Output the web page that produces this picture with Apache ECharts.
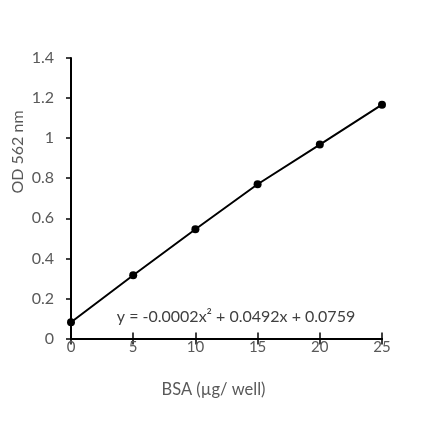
<!DOCTYPE html>
<html><head><meta charset="utf-8">
<script src="https://cdn.jsdelivr.net/npm/echarts@6/dist/echarts.min.js"></script>
<style>html,body{margin:0;padding:0;background:#fff}#c{width:438px;height:438px}</style>
</head><body><div id="c"></div>
<script>
const xValues = [0, 5, 10, 15, 20, 25];
const odValues = [0.081, 0.316, 0.545, 0.770, 0.968, 1.167];
const yTicks = [0, 0.2, 0.4, 0.6, 0.8, 1.0, 1.2, 1.4];
const xTicks = [0, 5, 10, 15, 20, 25];
const equation = 'y = -0.0002x\u00B2 + 0.0492x + 0.0759';

const font = 'Lato, "Open Sans", sans-serif';
const grey = '#595959';
const chart = echarts.init(document.getElementById('c'));
const xBase = {
  type: 'value', min: xTicks[0], max: xTicks[xTicks.length - 1], interval: 5,
  splitLine: { show: false },
  axisLine: { lineStyle: { color: '#000', width: 2 } }
};
chart.setOption({
  animation: false,
  grid: { left: 71, right: 56, top: 58, bottom: 99.5 },
  xAxis: [
    Object.assign({}, xBase, {
      name: 'BSA (\u00B5g/ well)', nameLocation: 'middle', nameGap: 43,
      nameTextStyle: { color: grey, fontSize: 16.5, fontFamily: font, padding: [0, 26, 0, 0] },
      axisTick: { show: true, length: 6, lineStyle: { color: '#000', width: 1.5 } },
      axisLabel: { color: grey, fontSize: 15, fontFamily: font, margin: 1 }
    }),
    Object.assign({}, xBase, {
      position: 'bottom',
      axisTick: { show: true, inside: true, length: 6, lineStyle: { color: '#000', width: 1.5 } },
      axisLabel: { show: false }
    })
  ],
  yAxis: {
    type: 'value', min: 0, max: 1.4, interval: 0.2,
    splitLine: { show: false },
    axisLine: { show: true, lineStyle: { color: '#000', width: 2 } },
    axisTick: { show: true, length: 5, lineStyle: { color: '#000', width: 1.5 } },
    axisLabel: { color: grey, fontSize: 16, fontFamily: font, margin: 17,
      formatter: v => String(Math.round(v * 10) / 10) }
  },
  graphic: [
    { type: 'text', x: 18, y: 152, rotation: Math.PI / 2, style: {
      text: 'OD 562 nm', fill: grey, font: '16px ' + font, align: 'center', verticalAlign: 'middle' } },
    { type: 'text', x: 236, y: 317, style: {
      text: equation, fill: '#404040', font: '16px ' + font, align: 'center', verticalAlign: 'middle' } }
  ],
  series: [{
    type: 'line', xAxisIndex: 0,
    data: xValues.map((x, i) => [x, odValues[i]]),
    symbol: 'circle', symbolSize: 8,
    itemStyle: { color: '#000' },
    lineStyle: { color: '#000', width: 2 }
  }]
});
</script></body></html>
